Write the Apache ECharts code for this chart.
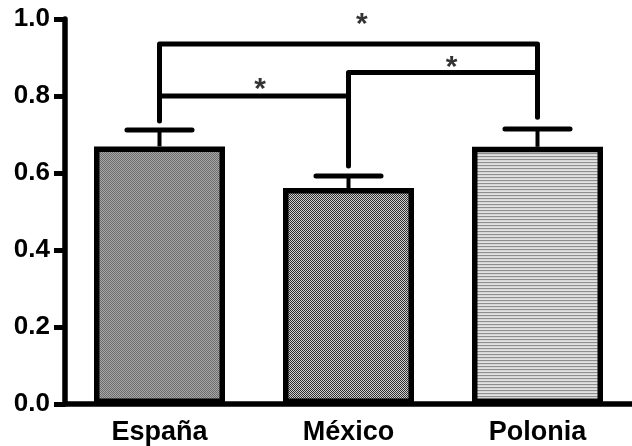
<!DOCTYPE html>
<html>
<head>
<meta charset="utf-8">
<script src="https://cdn.jsdelivr.net/npm/echarts@6/dist/echarts.min.js"></script>
<style>html,body{margin:0;padding:0;background:#fff;}#c{width:632px;height:446px;}</style>
</head>
<body>
<div id="c"></div>
<script>
const categories = ['España', 'México', 'Polonia'];
const means = [0.669, 0.561, 0.668];
const errUpper = [0.712, 0.592, 0.714];
// significance brackets, in (category index, value) units
const bracketAll = [[0, 0.735], [0, 0.935], [2, 0.935], [2, 0.745]];
const bracketEM = [[0, 0.80], [1, 0.80]];
const bracketMP = [[1, 0.618], [1, 0.861], [2, 0.861]];
const stars = [[1.055, 1.0], [0.516, 0.831], [1.53, 0.888]];

function pattern(w, h, draw) {
  const c = document.createElement('canvas');
  c.width = w; c.height = h;
  const ctx = c.getContext('2d');
  draw(ctx);
  return { image: c, repeat: 'repeat' };
}
function px(ctx, x, y, col) { ctx.fillStyle = col; ctx.fillRect(x, y, 1, 1); }
const patEs = pattern(2, 2, ctx => { px(ctx,0,0,'#6c6c6c'); px(ctx,1,1,'#6c6c6c'); px(ctx,1,0,'#a8a8a8'); px(ctx,0,1,'#a8a8a8'); });
const patMx = pattern(2, 2, ctx => { px(ctx,0,0,'#2e2e2e'); px(ctx,1,1,'#2e2e2e'); px(ctx,1,0,'#d0d0d0'); px(ctx,0,1,'#d0d0d0'); });
const patPl = pattern(1, 3, ctx => { px(ctx,0,0,'#8e8e8e'); px(ctx,0,1,'#d6d6d6'); px(ctx,0,2,'#e2e2e2'); });
const fills = [patEs, patMx, patPl];

const chart = echarts.init(document.getElementById('c'), null, { renderer: 'canvas' });
const font = 'Liberation Sans, Arial, sans-serif';
const lineSeries = (data) => ({
  type: 'line', xAxisIndex: 1, yAxisIndex: 0, data: data, symbol: 'none', clip: false,
  lineStyle: { color: '#000', width: 5, cap: 'round', join: 'round' }, z: 5, silent: true
});
chart.setOption({
  animation: false,
  grid: { left: 65, top: 19, bottom: 42, width: 576 },
  xAxis: [{
    type: 'category', data: categories,
    axisLine: { onZero: false, lineStyle: { color: '#000', width: 5.5 } },
    axisTick: { alignWithLabel: true, length: 11, lineStyle: { color: '#000', width: 5 } },
    axisLabel: { color: '#000', fontFamily: font, fontWeight: 'bold', fontSize: 27, margin: 15 }
  }, {
    type: 'value', min: -0.5, max: 2.5, show: false
  }],
  yAxis: {
    type: 'value', min: 0, max: 1, interval: 0.2,
    splitLine: { show: false },
    axisLine: { show: true, onZero: false, lineStyle: { color: '#000', width: 5.5 } },
    axisTick: { show: true, length: 11, lineStyle: { color: '#000', width: 5 } },
    axisLabel: { color: '#000', fontFamily: font, fontWeight: 'bold', fontSize: 26, margin: 15,
      formatter: v => v.toFixed(1) }
  },
  series: [
    {
      type: 'custom', xAxisIndex: 0, z: 1,
      data: categories.map((c, i) => [i, means[i], errUpper[i]]),
      renderItem: function (params, api) {
        const i = api.value(0);
        const top = api.coord([i, api.value(2)]);
        const base = api.coord([i, api.value(1)]);
        const half = api.size([1, 0])[0] * 0.172;
        return { type: 'group', children: [
          { type: 'line', shape: { x1: base[0], y1: base[1], x2: top[0], y2: top[1] }, style: { stroke: '#000', lineWidth: 4 } },
          { type: 'line', shape: { x1: top[0] - half, y1: top[1], x2: top[0] + half, y2: top[1] }, style: { stroke: '#000', lineWidth: 5, lineCap: 'round' } }
        ]};
      }
    },
    {
      type: 'bar', xAxisIndex: 0, barWidth: 131, z: 3,
      data: means.map((v, i) => ({ value: v, itemStyle: { color: fills[i] } })),
      itemStyle: { borderColor: '#000', borderWidth: 5.5 }
    },
    lineSeries(bracketAll),
    lineSeries(bracketEM),
    lineSeries(bracketMP),
    {
      type: 'scatter', xAxisIndex: 1, data: stars, symbolSize: 1, itemStyle: { color: 'rgba(0,0,0,0)' }, z: 6,
      label: { show: true, position: 'inside', formatter: '*', color: '#000', fontFamily: font, fontWeight: 'bold', fontSize: 30, offset: [3, 6] }
    }
  ]
});
</script>
</body>
</html>
